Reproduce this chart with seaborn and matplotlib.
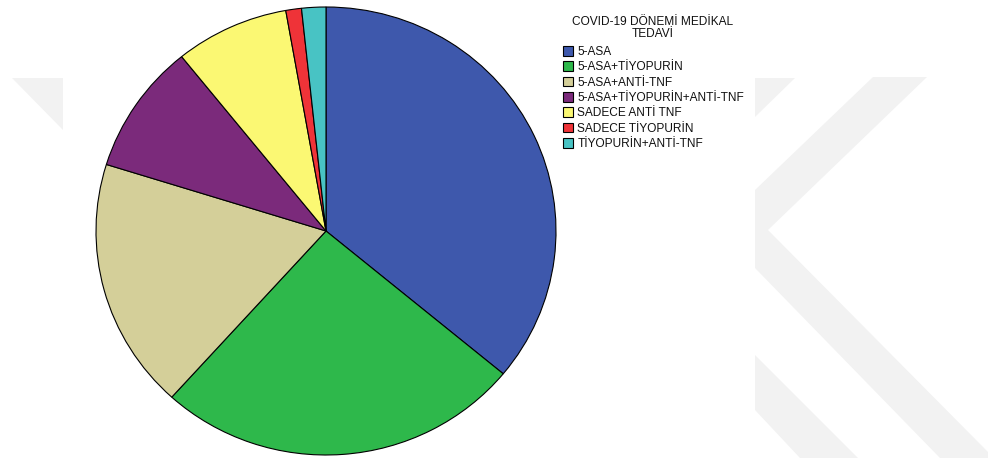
import matplotlib
matplotlib.use("Agg")
import matplotlib.pyplot as plt
from matplotlib.patches import Patch, Polygon
import seaborn as sns

categories = ["5-ASA", "5-ASA+TİYOPURİN", "5-ASA+ANTİ-TNF", "5-ASA+TİYOPURİN+ANTİ-TNF",
              "SADECE ANTİ TNF", "SADECE TİYOPURİN", "TİYOPURİN+ANTİ-TNF"]
values = [36.0, 25.7, 18.1, 9.4, 8.0, 1.1, 1.7]
colors = ["#3E58AC", "#2EB84B", "#D4CF99", "#7B2A7B", "#FBF873", "#EF3338", "#48C3C4"]
legend_title = "COVID-19 DÖNEMİ MEDİKAL\nTEDAVİ"

sns.set_theme(style="white")
plt.rcParams["font.family"] = ["Liberation Sans", "DejaVu Sans"]

W, H = 988, 458
fig = plt.figure(figsize=(W / 100, H / 100), dpi=100)
fig.patch.set_facecolor("white")

# faint background watermark shapes
wm = "#f2f2f2"
shapes = [
    [(12, 78), (63, 78), (63, 130)],
    [(755, 78), (795, 78), (755, 117)],
    [(873, 77), (927, 77), (768, 230), (988, 452), (988, 458), (940, 458), (755, 268), (755, 190)],
    [(755, 355), (858, 458), (800, 458), (755, 410)],
]
for pts in shapes:
    fig.patches.append(Polygon([(x / W, 1 - y / H) for x, y in pts], closed=True,
                               transform=fig.transFigure, facecolor=wm, edgecolor="none", zorder=0))

cx, cy, rx, ry = 326, 231, 230, 224
ax = fig.add_axes([(cx - rx) / W, 1 - (cy + ry) / H, 2 * rx / W, 2 * ry / H])
wedges, _ = ax.pie(values, colors=colors, startangle=90, counterclock=False,
                   wedgeprops=dict(edgecolor="black", linewidth=0.8))
for w in wedges:
    w.set_clip_on(False)
ax.set_aspect("auto")
ax.set_xlim(-1, 1)
ax.set_ylim(-1, 1)
ax.axis("off")

fs = 8.6
fig.text(653 / W, 1 - 16 / H, legend_title, ha="center", va="top", fontsize=fs,
         linespacing=0.95, color="#111111")

handles = [Patch(facecolor=c, edgecolor="black", linewidth=0.8) for c in colors]
leg = fig.legend(handles, categories, loc="upper left",
                 bbox_to_anchor=(563 / W, 1 - 46 / H), frameon=False, fontsize=fs,
                 handlelength=0.85, handleheight=0.85, handletextpad=0.35,
                 labelspacing=0.28, borderpad=0, borderaxespad=0)
for t in leg.get_texts():
    t.set_color("#111111")

fig.savefig("out.png", dpi=100, facecolor="white")
